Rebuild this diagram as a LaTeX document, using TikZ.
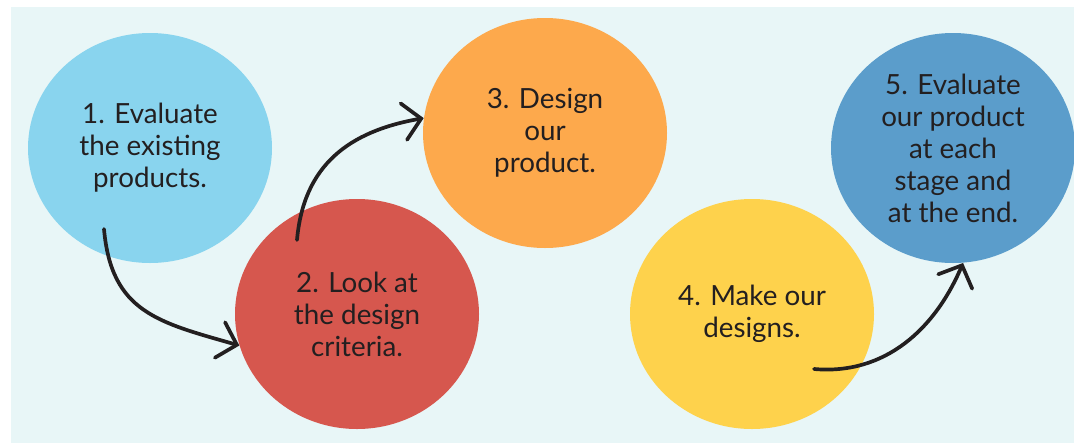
\documentclass[tikz,border=0pt]{standalone}
\usepackage{fontspec}
\setmainfont{Lato}
\usetikzlibrary{shapes.geometric}
\usetikzlibrary{arrows.meta}

\definecolor{panelbg}{HTML}{E8F6F7}
\definecolor{skyblue}{HTML}{89D4EE}
\definecolor{tomato}{HTML}{D6574E}
\definecolor{tangerine}{HTML}{FDA94C}
\definecolor{sunshine}{HTML}{FED24C}
\definecolor{steelblue}{HTML}{5B9DCB}
\definecolor{inkblack}{HTML}{231F20}

\begin{document}
\begin{tikzpicture}[
    stage/.style={ellipse, minimum width=4.88cm, minimum height=4.6cm, inner sep=0pt,
                  align=center, text=inkblack, font=\fontsize{15.8}{18.2}\selectfont},
    flow/.style={line width=2.1pt, line cap=round, line join=round, draw=inkblack,
                 -{Straight Barb[length=10pt, width=21pt, line cap=round]}}
  ]
  \useasboundingbox (0,0) rectangle (21.48,-8.86);

  % background panel
  \fill[panelbg] (0.22,-0.14) rectangle (21.48,-8.86);

  % the five stages
  \node[stage, fill=skyblue]   (stage1) at (3.00,-2.96)  {1. Evaluate\\the existing\\products.};
  \node[stage, fill=tomato]    (stage2) at (7.14,-6.28)  {2. Look at\\the design\\criteria.};
  \node[stage, fill=tangerine] (stage3) at (10.90,-2.66) {3. Design\\our\\product.};
  \node[stage, fill=sunshine]  (stage4) at (15.04,-6.28) {4. Make our\\designs.};
  \node[stage, fill=steelblue] (stage5) at (19.06,-2.96) {5. Evaluate\\our product\\at each\\stage and\\at the end.};

  % arrow starts inside the circles
  \coordinate (from1) at (2.08,-4.58);
  \coordinate (from2) at (5.94,-4.80);
  \coordinate (from3) at (16.28,-7.38);

  \draw[flow] (from1) to[out=-85, in=164, looseness=1.2] (stage2.195);
  \draw[flow] (from2) to[out=85, in=190, looseness=1.1] (stage3.173);
  \draw[flow] (from3) to[out=-5, in=-113] (stage5.-85);

\end{tikzpicture}
\end{document}
